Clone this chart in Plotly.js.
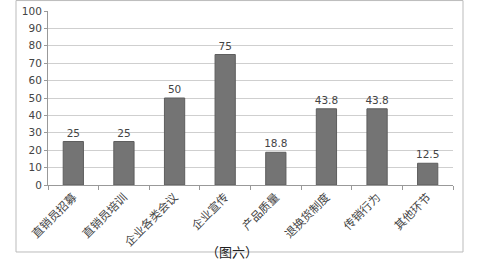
<!DOCTYPE html>
<html><head><meta charset="utf-8">
<script src="https://cdn.plot.ly/plotly-3.0.1.min.js"></script>
<style>html,body{margin:0;padding:0;background:#fff}#c{width:500px;height:279px}</style>
</head><body><div id="c"></div>
<script>
const categories = ["直销员招募","直销员培训","企业各类会议","企业宣传","产品质量","退换货制度","传销行为","其他环节"];
const values = [25, 25, 50, 75, 18.8, 43.8, 43.8, 12.5];
const valueLabels = ["25","25","50","75","18.8","43.8","43.8","12.5"];
const yTicks = [0,10,20,30,40,50,60,70,80,90,100];
const caption = "（图六）";

Plotly.newPlot("c", [{
  type: "bar", x: categories, y: values, text: valueLabels,
  textposition: "outside", cliponaxis: false, constraintext: "none",
  textfont: {family: "DejaVu Sans, sans-serif", size: 10.5, color: "#444"},
  marker: {color: "#747474", line: {color: "#5e5e5e", width: 1}},
  width: 0.4, hoverinfo: "none"
}], {
  width: 500, height: 279,
  margin: {l: 48, r: 47, t: 11, b: 94},
  paper_bgcolor: "#fff", plot_bgcolor: "#fff",
  showlegend: false,
  xaxis: {
    type: "category", tickangle: -45, tickson: "boundaries",
    ticks: "outside", ticklen: 4, tickcolor: "#999",
    showline: true, linecolor: "#999", linewidth: 1,
    showgrid: false,
    tickfont: {family: "Noto Sans CJK SC, sans-serif", size: 11.5, color: "#444"}
  },
  yaxis: {
    range: [0, 100], tickvals: yTicks, ticktext: yTicks.map(String),
    ticks: "outside", ticklen: 3, tickcolor: "#999",
    showline: true, linecolor: "#999", linewidth: 1,
    gridcolor: "#cfcfcf", gridwidth: 1, zeroline: false,
    tickfont: {family: "DejaVu Sans, sans-serif", size: 10.5, color: "#444"}
  },
  shapes: [{
    type: "rect", xref: "paper", yref: "paper",
    x0: -0.079, x1: 1.0247, y0: -0.385, y1: 1.06,
    line: {color: "#bbb", width: 1}, fillcolor: "rgba(0,0,0,0)"
  }],
  annotations: [{
    xref: "paper", yref: "paper", x: 0.454, y: -0.448,
    text: caption, showarrow: false,
    font: {family: "Noto Sans CJK SC, sans-serif", size: 13, color: "#222"}
  }]
}, {staticPlot: true});
</script></body></html>
